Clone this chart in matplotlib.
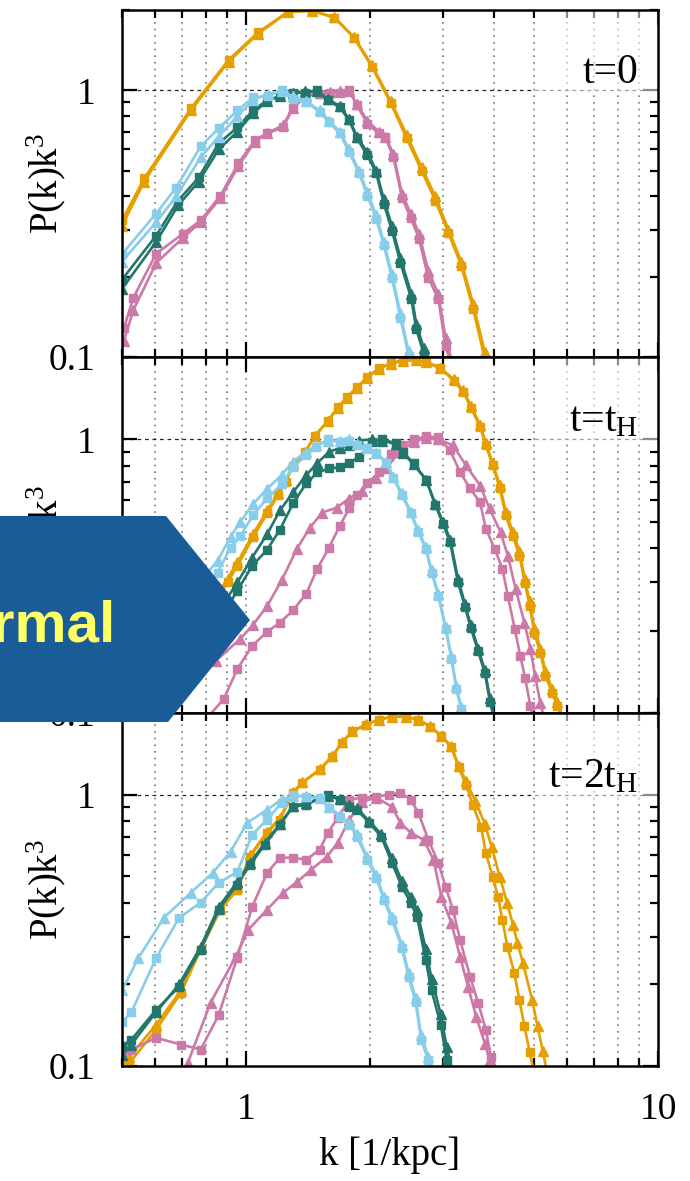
import matplotlib.pyplot as plt
from matplotlib.patches import Polygon, Rectangle
from matplotlib.ticker import FixedLocator, NullFormatter

plt.rcParams['font.family'] = ['Liberation Serif', 'DejaVu Serif']
plt.rcParams['mathtext.fontset'] = 'custom'
plt.rcParams['mathtext.rm'] = 'Liberation Serif'
plt.rcParams['mathtext.it'] = 'Liberation Serif:italic'

ORANGE = '#E69F00'
SKY = '#88CDEA'
TEAL = '#23766B'
PINK = '#CC79A7'

# ---- t = 0 ----
k0_orange = [0.50, 0.566, 0.735, 0.907, 1.07, 1.264, 1.443, 1.639, 1.831, 2.023, 2.247, 2.455,
             2.667, 2.88, 3.10, 3.33, 3.56, 3.80]
p0_orange_sq = [0.325, 0.467, 0.856, 1.30, 1.65, 1.97, 1.99, 1.87, 1.57, 1.22, 0.894, 0.66,
                0.50, 0.386, 0.292, 0.22, 0.151, 0.098]
p0_orange_tr = [0.31, 0.455, 0.84, 1.28, 1.63, 1.96, 1.99, 1.88, 1.58, 1.24, 0.91, 0.68,
                0.515, 0.40, 0.30, 0.228, 0.158, 0.104]

k0_sky = [0.50, 0.605, 0.677, 0.776, 0.858, 0.953, 1.04, 1.13, 1.22, 1.30, 1.40, 1.51, 1.59,
          1.69, 1.78, 1.88, 1.97, 2.07, 2.16, 2.26, 2.37, 2.48, 2.60]
p0_sky_sq = [0.243, 0.345, 0.432, 0.616, 0.72, 0.84, 0.94, 0.95, 1.0, 0.93, 0.90, 0.83, 0.758,
             0.689, 0.585, 0.49, 0.403, 0.33, 0.262, 0.198, 0.14, 0.101, 0.072]
p0_sky_tr = [0.228, 0.32, 0.40, 0.56, 0.67, 0.80, 0.92, 0.97, 0.99, 0.95, 0.91, 0.84, 0.77,
             0.70, 0.60, 0.50, 0.415, 0.34, 0.27, 0.205, 0.146, 0.105, 0.076]

k0_teal = [0.50, 0.605, 0.684, 0.768, 0.858, 0.953, 1.04, 1.124, 1.21, 1.30, 1.39, 1.49, 1.58,
           1.69, 1.78, 1.86, 1.97, 2.07, 2.16, 2.26, 2.37, 2.52, 2.59, 2.70, 2.80]
p0_teal_sq = [0.195, 0.285, 0.386, 0.471, 0.632, 0.726, 0.84, 0.917, 0.95, 0.98, 0.98, 1.0, 0.917,
              0.863, 0.771, 0.66, 0.57, 0.49, 0.376, 0.298, 0.226, 0.165, 0.127, 0.103, 0.085]
p0_teal_tr = [0.18, 0.27, 0.37, 0.455, 0.60, 0.70, 0.82, 0.91, 0.95, 0.98, 0.99, 0.99, 0.93,
              0.87, 0.78, 0.67, 0.585, 0.50, 0.39, 0.31, 0.235, 0.172, 0.133, 0.108, 0.09]

k0_pink = [0.505, 0.533, 0.605, 0.703, 0.776, 0.867, 0.958, 1.05, 1.124, 1.23, 1.30, 1.40, 1.51,
           1.60, 1.69, 1.78, 1.86, 1.97, 2.10, 2.18, 2.28, 2.39, 2.51, 2.63, 2.77, 2.93, 3.05, 3.20]
p0_pink_sq = [0.128, 0.167, 0.244, 0.29, 0.325, 0.403, 0.532, 0.649, 0.689, 0.726, 0.856, 0.958,
              0.97, 0.98, 0.98, 1.0, 0.878, 0.75, 0.689, 0.666, 0.56, 0.396, 0.333, 0.278, 0.198,
              0.165, 0.11, 0.085]
p0_pink_tr = [0.115, 0.15, 0.225, 0.28, 0.32, 0.395, 0.52, 0.64, 0.69, 0.74, 0.86, 0.955,
              0.975, 0.985, 0.99, 0.99, 0.885, 0.77, 0.70, 0.67, 0.575, 0.41, 0.345, 0.29, 0.21,
              0.172, 0.118, 0.09]

# ---- t = t_H ----
k1_orange = [0.50, 0.60, 0.70, 0.821, 0.902, 0.953, 1.04, 1.125, 1.196, 1.25, 1.30, 1.39, 1.47,
             1.58, 1.67, 1.76, 1.86, 1.97, 2.10, 2.25, 2.41, 2.58, 2.74, 2.96, 3.19, 3.37, 3.52,
             3.70, 3.82, 3.97, 4.13, 4.27, 4.44, 4.61, 4.75, 4.88, 5.01, 5.18, 5.33, 5.54, 5.70, 5.90]
p1_orange_sq = [0.085, 0.12, 0.17, 0.24, 0.30, 0.345, 0.438, 0.536, 0.624, 0.70, 0.80, 0.896,
                1.03, 1.17, 1.31, 1.43, 1.55, 1.69, 1.82, 1.90, 1.95, 1.95, 1.91, 1.82, 1.64, 1.49,
                1.30, 1.11, 0.951, 0.803, 0.662, 0.527, 0.445, 0.376, 0.299, 0.247, 0.196, 0.166,
                0.137, 0.118, 0.106, 0.092]
p1_orange_tr = [0.09, 0.125, 0.175, 0.25, 0.31, 0.355, 0.45, 0.55, 0.635, 0.71, 0.81, 0.90,
                1.03, 1.17, 1.30, 1.42, 1.54, 1.68, 1.81, 1.89, 1.94, 1.95, 1.92, 1.83, 1.66, 1.51,
                1.32, 1.13, 0.97, 0.82, 0.68, 0.545, 0.46, 0.39, 0.31, 0.256, 0.205, 0.172,
                0.142, 0.122, 0.11, 0.095]

k1_sky = [0.50, 0.60, 0.70, 0.77, 0.853, 0.917, 0.969, 1.04, 1.125, 1.22, 1.30, 1.40, 1.48, 1.58,
          1.69, 1.78, 1.86, 1.97, 2.07, 2.19, 2.28, 2.39, 2.51, 2.62, 2.73, 2.82, 2.93, 3.05,
          3.15, 3.24, 3.33, 3.45]
p1_sky_sq = [0.13, 0.17, 0.22, 0.27, 0.326, 0.402, 0.445, 0.527, 0.61, 0.685, 0.79, 0.874, 0.94,
             1.0, 0.975, 0.985, 0.951, 0.927, 0.889, 0.823, 0.72, 0.624, 0.536, 0.457, 0.399,
             0.326, 0.268, 0.203, 0.158, 0.122, 0.103, 0.085]
p1_sky_tr = [0.15, 0.19, 0.25, 0.30, 0.36, 0.44, 0.50, 0.58, 0.66, 0.74, 0.83, 0.90, 0.95,
             0.99, 0.99, 1.0, 0.96, 0.93, 0.89, 0.83, 0.73, 0.635, 0.545, 0.465, 0.405, 0.333,
             0.272, 0.207, 0.162, 0.125, 0.105, 0.087]

k1_teal = [0.50, 0.60, 0.70, 0.80, 0.88, 0.953, 1.035, 1.125, 1.209, 1.30, 1.40, 1.49, 1.59,
           1.69, 1.78, 1.88, 2.02, 2.14, 2.31, 2.41, 2.55, 2.74, 2.88, 3.01, 3.13, 3.27, 3.40,
           3.51, 3.66, 3.80, 3.91, 4.05]
p1_teal_sq = [0.09, 0.12, 0.15, 0.19, 0.23, 0.28, 0.345, 0.395, 0.468, 0.583, 0.69, 0.757, 0.783,
              0.79, 0.823, 0.859, 0.975, 1.0, 0.967, 0.896, 0.817, 0.71, 0.575, 0.49, 0.42, 0.30,
              0.245, 0.205, 0.168, 0.14, 0.11, 0.088]
p1_teal_tr = [0.10, 0.13, 0.165, 0.21, 0.25, 0.30, 0.37, 0.45, 0.55, 0.64, 0.74, 0.82, 0.90,
              0.93, 0.95, 0.99, 1.0, 0.99, 0.96, 0.89, 0.81, 0.71, 0.58, 0.50, 0.43, 0.31, 0.25,
              0.21, 0.172, 0.143, 0.113, 0.09]

k1_pink_sq = [0.80, 0.883, 0.953, 1.035, 1.125, 1.209, 1.30, 1.40, 1.49, 1.59, 1.69, 1.78, 1.86,
              1.97, 2.10, 2.25, 2.39, 2.55, 2.74, 2.93, 3.13, 3.31, 3.50, 3.70, 3.82, 4.01, 4.19,
              4.32, 4.49, 4.63, 4.76, 4.90, 5.05]
p1_pink_sq = [0.095, 0.1125, 0.145, 0.176, 0.198, 0.214, 0.237, 0.273, 0.337, 0.402, 0.484,
              0.559, 0.624, 0.69, 0.757, 0.881, 0.951, 1.0, 1.025, 1.017, 0.911, 0.757, 0.662,
              0.588, 0.472, 0.399, 0.337, 0.268, 0.203, 0.162, 0.134, 0.106, 0.088]
k1_pink_tr = [0.60, 0.70, 0.845, 0.969, 1.04, 1.125, 1.22, 1.33, 1.43, 1.53, 1.66, 1.78, 1.91,
              2.07, 2.19, 2.35, 2.55, 2.74, 2.93, 3.18, 3.42, 3.70, 3.90, 4.15, 4.32, 4.51, 4.74,
              4.90, 5.03, 5.18, 5.35]
p1_pink_tr = [0.10, 0.125, 0.155, 0.187, 0.21, 0.246, 0.305, 0.399, 0.476, 0.54, 0.563, 0.608,
              0.65, 0.72, 0.783, 0.896, 0.98, 1.01, 1.0, 0.951, 0.803, 0.678, 0.559, 0.457, 0.376,
              0.285, 0.214, 0.172, 0.137, 0.109, 0.09]

# ---- t = 2 t_H ----
k2_orange_sq = [0.48, 0.521, 0.605, 0.695, 0.776, 0.867, 0.953, 1.024, 1.125, 1.209, 1.30, 1.37,
                1.51, 1.62, 1.71, 1.81, 1.96, 2.10, 2.26, 2.44, 2.62, 2.80, 2.98, 3.15, 3.28, 3.42,
                3.55, 3.72, 3.82, 3.97, 4.09, 4.19, 4.31, 4.48, 4.61, 4.74, 4.88, 5.05]
p2_orange_sq = [0.085, 0.1025, 0.136, 0.186, 0.268, 0.377, 0.446, 0.59, 0.724, 0.809, 1.017,
                1.107, 1.236, 1.38, 1.555, 1.71, 1.81, 1.89, 1.94, 1.94, 1.89, 1.78, 1.64, 1.50,
                1.26, 1.09, 0.918, 0.762, 0.611, 0.498, 0.42, 0.346, 0.275, 0.22, 0.175, 0.14,
                0.113, 0.088]
k2_orange_tr = [0.48, 0.521, 0.605, 0.695, 0.776, 0.867, 0.953, 1.024, 1.125, 1.209, 1.30, 1.37,
                1.51, 1.62, 1.71, 1.81, 1.96, 2.10, 2.26, 2.44, 2.62, 2.80, 2.98, 3.15, 3.28, 3.42,
                3.60, 3.80, 3.95, 4.13, 4.30, 4.45, 4.56, 4.70, 4.95, 5.10, 5.25, 5.40]
p2_orange_tr = [0.09, 0.108, 0.142, 0.19, 0.275, 0.38, 0.455, 0.60, 0.73, 0.82, 1.02, 1.11,
                1.24, 1.39, 1.56, 1.71, 1.82, 1.89, 1.94, 1.94, 1.89, 1.79, 1.65, 1.51, 1.28, 1.12,
                0.95, 0.78, 0.64, 0.498, 0.40, 0.33, 0.284, 0.24, 0.175, 0.14, 0.114, 0.092]

k2_sky_sq = [0.50, 0.527, 0.605, 0.688, 0.776, 0.858, 0.953, 1.035, 1.125, 1.22, 1.30, 1.40, 1.51,
             1.59, 1.69, 1.78, 1.86, 1.97, 2.07, 2.16, 2.26, 2.39, 2.48, 2.58, 2.66, 2.77, 2.90]
p2_sky_sq = [0.145, 0.158, 0.25, 0.352, 0.40, 0.473, 0.52, 0.712, 0.809, 0.934, 1.0, 0.983, 0.975,
             0.895, 0.83, 0.775, 0.70, 0.576, 0.494, 0.41, 0.346, 0.272, 0.213, 0.172, 0.125,
             0.105, 0.085]
k2_sky_tr = [0.50, 0.548, 0.632, 0.734, 0.83, 0.917, 1.007, 1.125, 1.22, 1.30, 1.40, 1.51, 1.59,
             1.69, 1.78, 1.86, 1.97, 2.07, 2.16, 2.26, 2.39, 2.48, 2.58, 2.66, 2.77, 2.90]
p2_sky_tr = [0.19, 0.25, 0.352, 0.435, 0.515, 0.616, 0.788, 0.88, 0.96, 0.99, 0.985, 0.97, 0.90,
             0.84, 0.785, 0.715, 0.59, 0.505, 0.42, 0.355, 0.28, 0.22, 0.178, 0.13, 0.108, 0.088]

k2_teal = [0.50, 0.527, 0.605, 0.688, 0.776, 0.858, 0.95, 1.024, 1.11, 1.21, 1.30, 1.40, 1.58,
           1.69, 1.78, 1.86, 1.99, 2.13, 2.26, 2.39, 2.51, 2.60, 2.73, 2.82, 2.97, 3.07, 3.20]
p2_teal_sq = [0.118, 0.125, 0.161, 0.196, 0.268, 0.377, 0.466, 0.552, 0.654, 0.775, 0.903, 0.918,
              1.0, 0.958, 0.903, 0.88, 0.788, 0.70, 0.561, 0.458, 0.40, 0.355, 0.246, 0.19, 0.142,
              0.105, 0.08]
p2_teal_tr = [0.11, 0.12, 0.158, 0.20, 0.275, 0.385, 0.475, 0.56, 0.665, 0.78, 0.91, 0.93, 0.99,
              0.96, 0.915, 0.89, 0.80, 0.715, 0.585, 0.48, 0.42, 0.375, 0.27, 0.21, 0.155, 0.117,
              0.09]

k2_pink_sq = [0.50, 0.527, 0.605, 0.695, 0.776, 0.858, 0.953, 1.035, 1.125, 1.209, 1.30, 1.40,
              1.51, 1.58, 1.67, 1.78, 1.91, 2.07, 2.22, 2.37, 2.51, 2.62, 2.77, 2.93, 3.05, 3.18,
              3.31, 3.50, 3.66, 3.82, 3.93, 4.10]
p2_pink_sq = [0.112, 0.115, 0.127, 0.12, 0.115, 0.154, 0.252, 0.386, 0.515, 0.586, 0.586, 0.576,
              0.627, 0.724, 0.822, 0.958, 0.975, 0.983, 1.0, 1.017, 0.958, 0.858, 0.682, 0.561,
              0.458, 0.376, 0.291, 0.213, 0.171, 0.136, 0.108, 0.085]
k2_pink_tr = [0.68, 0.723, 0.82, 0.943, 1.013, 1.125, 1.23, 1.33, 1.44, 1.57, 1.67, 1.78, 1.91,
              2.07, 2.26, 2.37, 2.51, 2.70, 2.85, 2.98, 3.15, 3.31, 3.46, 3.62, 3.80, 3.90, 4.05]
p2_pink_tr = [0.088, 0.103, 0.171, 0.252, 0.318, 0.377, 0.435, 0.477, 0.529, 0.59, 0.665, 0.809,
              0.942, 0.975, 0.903, 0.788, 0.724, 0.682, 0.576, 0.42, 0.337, 0.252, 0.196, 0.152,
              0.121, 0.105, 0.085]

panel_labels = ['t=0', r't=t$_{\mathrm{H}}$', r't=2t$_{\mathrm{H}}$']

# (k squares, P squares, k triangles, P triangles, colour, zorder)
panels = [
    [(k0_orange, p0_orange_sq, k0_orange, p0_orange_tr, ORANGE, 3),
     (k0_pink, p0_pink_sq, k0_pink, p0_pink_tr, PINK, 4),
     (k0_teal, p0_teal_sq, k0_teal, p0_teal_tr, TEAL, 5),
     (k0_sky, p0_sky_sq, k0_sky, p0_sky_tr, SKY, 6)],
    [(k1_orange, p1_orange_sq, k1_orange, p1_orange_tr, ORANGE, 3),
     (k1_pink_sq, p1_pink_sq, k1_pink_tr, p1_pink_tr, PINK, 4),
     (k1_teal, p1_teal_sq, k1_teal, p1_teal_tr, TEAL, 5),
     (k1_sky, p1_sky_sq, k1_sky, p1_sky_tr, SKY, 6)],
    [(k2_orange_sq, p2_orange_sq, k2_orange_tr, p2_orange_tr, ORANGE, 3),
     (k2_pink_sq, p2_pink_sq, k2_pink_tr, p2_pink_tr, PINK, 4),
     (k2_teal, p2_teal_sq, k2_teal, p2_teal_tr, TEAL, 5),
     (k2_sky_sq, p2_sky_sq, k2_sky_tr, p2_sky_tr, SKY, 6)],
]

W, H = 690, 1181
fig = plt.figure(figsize=(W / 100, H / 100), dpi=100)

x0, x1 = 122, 658
edges = [10, 357, 713, 1066]
fs = 27

minor_x = [0.5, 0.6, 0.7, 0.8, 0.9, 2, 3, 4, 5, 6, 7, 8, 9]
minor_y = [0.2, 0.3, 0.4, 0.5, 0.6, 0.7, 0.8, 0.9, 2]

axes = []
for i in range(3):
    top, bot = edges[i], edges[i + 1]
    ax = fig.add_axes([x0 / W, 1 - bot / H, (x1 - x0) / W, (bot - top) / H])
    ax.set_xscale('log')
    ax.set_yscale('log')
    ax.set_xlim(0.5, 10)
    ax.set_ylim(0.1, 2)

    # gnuplot-style grid: dotted verticals, dashed line at P=1
    for xv in [0.6, 0.7, 0.8, 0.9, 1, 2, 3, 4, 5, 6, 7, 8, 9]:
        ax.axvline(xv, color='#7a7a7a', lw=1.2, ls=(0, (1, 3)), zorder=1)
    ax.axhline(1, color='#222222', lw=0.9, ls=(0, (3, 3)), zorder=1)
    ax.add_patch(Rectangle((0.77, 0.755), 0.23, 0.245, transform=ax.transAxes,
                           facecolor='white', alpha=0.55, edgecolor='none', zorder=2))

    for ks, ps, kt, pt, col, z in panels[i]:
        ax.plot(kt, pt, color=col, lw=1.9, marker='^', ms=7, mec=col, mfc=col, zorder=z)
        ax.plot(ks, ps, color=col, lw=1.9, marker='s', ms=6.4, mec=col, mfc=col, zorder=z)

    ax.text(0.963, 0.79, panel_labels[i], transform=ax.transAxes, ha='right', va='baseline',
            fontsize=30, zorder=8)

    ax.xaxis.set_major_locator(FixedLocator([1, 10]))
    ax.xaxis.set_minor_locator(FixedLocator(minor_x))
    ax.xaxis.set_minor_formatter(NullFormatter())
    ax.set_xticklabels(['1', '10'] if i == 2 else ['', ''])
    ax.yaxis.set_major_locator(FixedLocator([0.1, 1]))
    ax.yaxis.set_minor_locator(FixedLocator(minor_y))
    ax.yaxis.set_minor_formatter(NullFormatter())
    ax.set_yticklabels(['0.1', '1'])

    ax.tick_params(which='both', direction='in', top=True, right=True, width=1.6,
                   labelsize=fs, pad=19)
    ax.tick_params(which='major', length=11)
    ax.tick_params(which='minor', length=6)
    for s in ax.spines.values():
        s.set_linewidth(1.8)
        s.set_zorder(9)

    ax.set_ylabel(r'P(k)k$^3$', fontsize=fs + 1)
    ax.yaxis.set_label_coords(-0.10, 0.5)
    axes.append(ax)

axes[2].set_xlabel('k [1/kpc]', fontsize=fs + 1)
axes[2].xaxis.set_label_coords(0.5, -0.2)

# banner arrow over the left edge
banner = [(0, 516), (166, 516), (250, 620), (168, 722), (0, 722)]
fig.add_artist(Polygon([(x / W, 1 - y / H) for x, y in banner], closed=True,
                       transform=fig.transFigure, facecolor='#1A5C98', edgecolor='none',
                       zorder=20))
fig.text(115 / W, 1 - 642 / H, 'Normal', ha='right', va='baseline', fontsize=42,
         fontweight='bold', family=['Liberation Sans', 'DejaVu Sans'], color='#FFFF66',
         zorder=21)

fig.savefig('out.png', dpi=100)
